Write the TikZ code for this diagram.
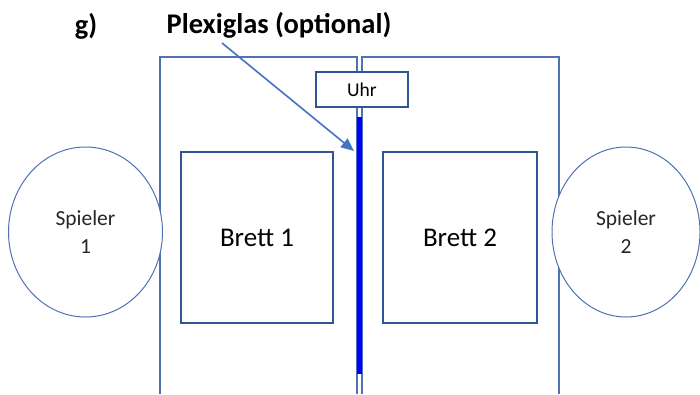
\documentclass[tikz,border=0pt]{standalone}
\usepackage{fontspec}
\setmainfont{Carlito}
\usetikzlibrary{arrows.meta,shapes.geometric}
\definecolor{thinblue}{HTML}{4F72B3}
\definecolor{boxblue}{HTML}{2F5597}
\definecolor{arrowblue}{HTML}{4472C4}
\tikzset{
  tableline/.style={draw=thinblue,line width=1.1pt},
  player/.style={ellipse,draw=thinblue,line width=1pt,fill=white,align=center,inner sep=0pt,
     font=\fontsize{21.5}{28}\selectfont,text=black!85},
  boardbox/.style={draw=boxblue,line width=2pt,fill=white,inner sep=0pt,
     font=\fontsize{27}{30}\selectfont},
  clockbox/.style={draw=boxblue,line width=1.8pt,fill=white,inner sep=0pt,
     font=\fontsize{19.5}{22}\selectfont},
  titletext/.style={font=\fontsize{28.5}{30}\selectfont\bfseries,inner sep=0pt,anchor=center},
  pointer/.style={draw=arrowblue,line width=1.6pt,-{Triangle[length=13pt,width=11pt]}}
}
\begin{document}
\begin{tikzpicture}[x=1pt,y=-1pt]
\useasboundingbox (0,0) rectangle (700,394);
% tables
\draw[tableline] (160,394) -- (160,57) -- (357,57) -- (357,394);
\draw[tableline] (362,394) -- (362,57) -- (559,57) -- (559,394);
% players
\node[player,minimum width=154pt,minimum height=170pt] (p1) at (85.5,232) {Spieler\\1};
\node[player,minimum width=148pt,minimum height=170pt] (p2) at (626,232) {Spieler\\2};
% boards
\node[boardbox,minimum width=152pt,minimum height=171pt] (b1) at (257,237.5) {Brett 1};
\node[boardbox,minimum width=154pt,minimum height=171pt] (b2) at (460,237.5) {Brett 2};
% plexiglas
\node[fill=blue,draw=none,minimum width=5.5pt,minimum height=257pt,inner sep=0pt] (plexi) at (359.7,245.5) {};
% clock
\node[clockbox,minimum width=92pt,minimum height=35pt] (clock) at (362,89.5) {Uhr};
% titles
\node[titletext] (g) at (86,26) {g)};
\node[titletext] (title) at (279,25) {Plexiglas (optional)};
\coordinate (arrstart) at (222,43);
\coordinate (arrend) at (354,151);
\draw[pointer] (arrstart) -- (arrend);
\end{tikzpicture}
\end{document}
